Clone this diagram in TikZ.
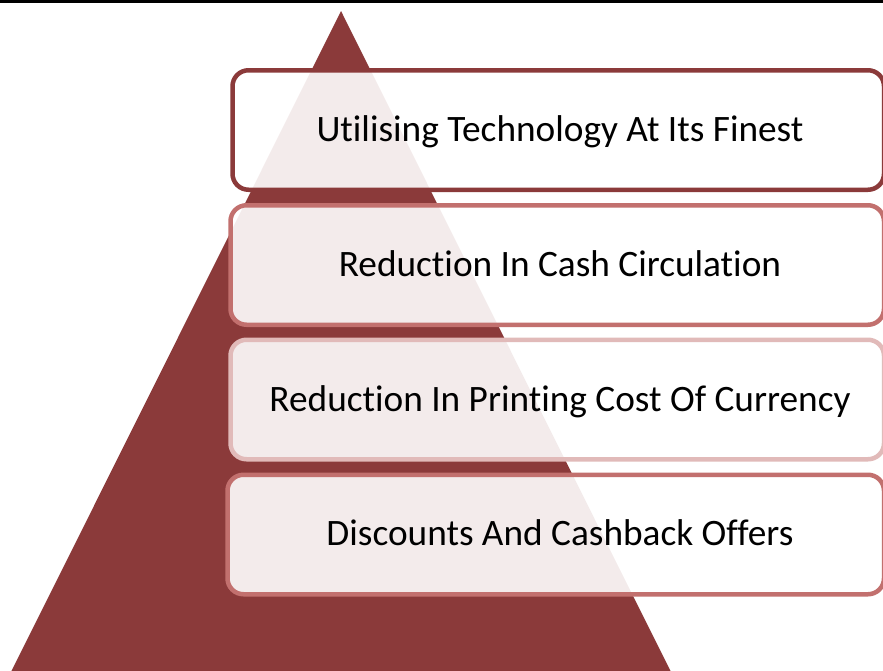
\documentclass[tikz,border=0pt]{standalone}
\usepackage{fontspec}
\setmainfont[RawFeature={-liga}]{Carlito}
\definecolor{tri}{RGB}{139,58,58}
\definecolor{bmid}{RGB}{194,112,110}
\definecolor{blight}{RGB}{225,186,185}
\begin{document}
\begin{tikzpicture}[x=1pt,y=-1pt,
  itembox/.style={rectangle, rounded corners=16pt, line width=4.5pt,
    fill=white, fill opacity=0.9, minimum height=119.5pt, inner sep=0pt},
  itemtext/.style={inner sep=0pt, text height=24pt, text depth=0pt,
    font=\fontsize{37.3}{44}\selectfont, text=black}]
\useasboundingbox (0,0) rectangle (883,670);
\fill[black] (0,0) rectangle (883,3);
\fill[tri] (341,11) -- (6,682) -- (676,682) -- cycle;
\node[itembox, draw=tri,    minimum width=651.5pt] (b1) at (558.25,130) {};
\node[itembox, draw=bmid,   minimum width=653.5pt] (b2) at (557.25,265) {};
\node[itembox, draw=blight, minimum width=653.5pt] (b3) at (557.25,399.5) {};
\node[itembox, draw=bmid,   minimum width=656.5pt] (b4) at (555.75,534.5) {};
\node[itemtext] (t1) at (560,129.5) {Utilising Technology At Its Finest};
\node[itemtext] (t2) at (560,264.5) {Reduction In Cash Circulation};
\node[itemtext] (t3) at (560,399)   {Reduction In Printing Cost Of Currency};
\node[itemtext] (t4) at (560,533.5) {Discounts And Cashback Offers};
\end{tikzpicture}
\end{document}
